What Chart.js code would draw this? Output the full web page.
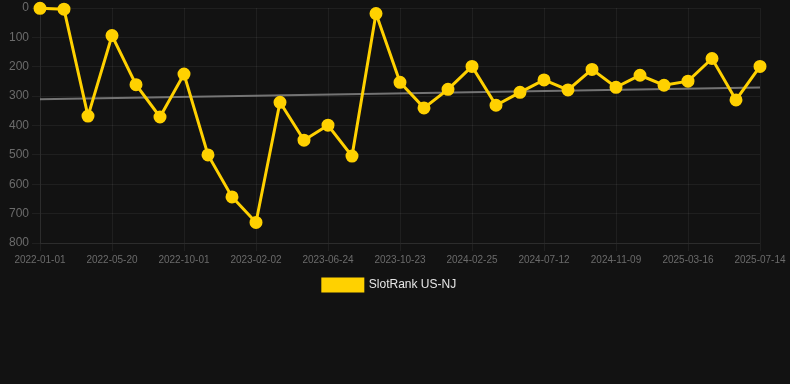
<!DOCTYPE html>
<html>
<head>
<meta charset="utf-8">
<script src="https://cdn.jsdelivr.net/npm/chart.js@4"></script>
<style>
    html, body { margin: 0; padding: 0; background: #121212; }
    #wrap { width: 790px; height: 301px; position: relative; }
</style>
</head>
<body>
<div id="wrap"><canvas id="rankChart"></canvas></div>
<script>
const dateLabels = [
    '2022-01-01', '2022-02-16', '2022-04-04', '2022-05-20', '2022-07-06', '2022-08-16',
    '2022-10-01', '2022-11-12', '2022-12-23', '2023-02-02', '2023-03-16', '2023-05-04',
    '2023-06-24', '2023-08-05', '2023-09-14', '2023-10-23', '2023-12-03', '2024-01-14',
    '2024-02-25', '2024-04-11', '2024-05-27', '2024-07-12', '2024-08-22', '2024-09-30',
    '2024-11-09', '2024-12-24', '2025-02-01', '2025-03-16', '2025-04-27', '2025-06-02',
    '2025-07-14'
];

const rankValues = [
    1, 4, 368, 94, 261, 371, 225, 500, 643, 730, 321,
    450, 399, 504, 19, 253, 340, 277, 199, 331, 287,
    245, 279, 209, 270, 229, 263, 249, 172, 313, 199
];

// trend line only has start and end value
const trendStart = 311;
const trendEnd = 271;
const trendValues = dateLabels.map((d, i) => i === 0 ? trendStart : (i === dateLabels.length - 1 ? trendEnd : null));

const tickColor = '#6b6b6b';
const gridColor = 'rgba(255,255,255,0.06)';
const fontFamily = 'Liberation Sans, Arial, sans-serif';

// let the y tick labels draw past the narrow axis box
const unclipYLabels = {
    id: 'unclipYLabels',
    afterLayout(chart) {
        chart.scales.y.left = 0;
    }
};

document.addEventListener('DOMContentLoaded', function() {
    const ctx = document.getElementById('rankChart').getContext('2d');
    new Chart(ctx, {
        type: 'line',
        data: {
            labels: dateLabels,
            datasets: [{
                label: 'SlotRank US-NJ',
                data: rankValues,
                borderColor: '#ffd100',
                backgroundColor: '#ffd100',
                borderWidth: 3,
                pointRadius: 5,
                pointHoverRadius: 5,
                tension: 0,
                clip: false,
                order: 1
            }, {
                label: 'trend',
                data: trendValues,
                borderColor: 'rgba(140,140,140,0.8)',
                borderWidth: 2,
                pointRadius: 0,
                spanGaps: true,
                order: 2
            }]
        },
        options: {
            responsive: true,
            maintainAspectRatio: false,
            animation: false,
            layout: {
                padding: { left: 19, right: 30, top: 7 }
            },
            plugins: {
                legend: {
                    position: 'bottom',
                    labels: {
                        color: '#e6e6e6',
                        boxWidth: 40,
                        boxHeight: 12,
                        font: { size: 12, family: fontFamily },
                        filter: item => item.text !== 'trend'
                    }
                },
                tooltip: { enabled: false }
            },
            scales: {
                x: {
                    grid: { color: gridColor },
                    border: { color: gridColor },
                    ticks: {
                        color: tickColor,
                        maxRotation: 0,
                        autoSkip: true,
                        maxTicksLimit: 11,
                        font: { size: 10, family: fontFamily }
                    }
                },
                y: {
                    reverse: true,
                    min: 0,
                    max: 800,
                    afterFit: function(scale) { scale.width = 21; },
                    grid: { color: gridColor },
                    border: { color: gridColor },
                    ticks: {
                        color: tickColor,
                        stepSize: 100,
                        font: { size: 12, family: fontFamily, lineHeight: 0.8 }
                    }
                }
            }
        },
        plugins: [unclipYLabels]
    });
});
</script>
</body>
</html>
